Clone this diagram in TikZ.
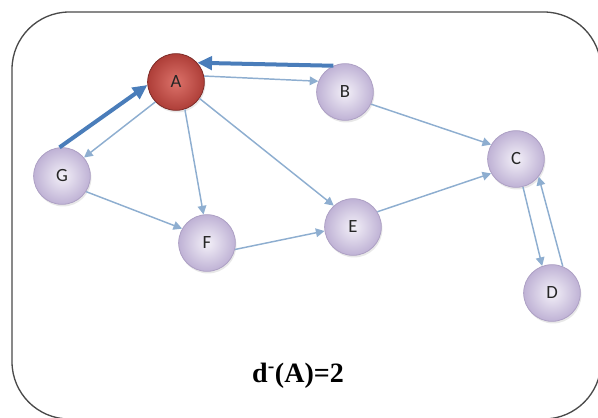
\documentclass[tikz,border=0pt]{standalone}
\usepackage{fontspec}
\setmainfont{Liberation Serif}
\newfontfamily\nodefont{Carlito}
\usetikzlibrary{arrows.meta,shadows}
\definecolor{ledgecol}{HTML}{8EAED0}
\definecolor{hedgecol}{HTML}{4A7DBA}
\definecolor{vin}{HTML}{F3F0F8}
\definecolor{vout}{HTML}{BFB2D5}
\definecolor{vborder}{HTML}{ADA0C4}
\definecolor{rin}{HTML}{DC726A}
\definecolor{rout}{HTML}{AE3E38}
\definecolor{rborder}{HTML}{7E2B27}
\definecolor{framecol}{HTML}{4A4A4A}
\begin{document}
\begin{tikzpicture}[x=0.75pt,y=-0.75pt,
  vtx/.style={circle, minimum size=42.5pt, inner sep=0pt, draw=vborder, line width=0.6pt,
    shading=radial, inner color=vin, outer color=vout,
    font=\nodefont\fontsize{14}{16}\selectfont, text=black!85,
    drop shadow={opacity=0.18, shadow xshift=0.8pt, shadow yshift=-1.6pt}},
  rootvtx/.style={vtx, draw=rborder, inner color=rin, outer color=rout},
  ledge/.style={draw=ledgecol, line width=1.1pt, -{Triangle[length=6.5pt,width=6.5pt]}},
  hedge/.style={draw=hedgecol, line width=3pt, -{Triangle[length=11pt,width=10pt]}},
  framebox/.style={draw=framecol, line width=1pt, rounded corners=43pt}]
\clip (0,0) rectangle (598,417);
\draw[framebox] (12,12) rectangle (601,419);

\node[rootvtx] (A) at (176,82) {A};
\node[vtx] (B) at (345,92) {B};
\node[vtx] (C) at (516,159) {C};
\node[vtx] (D) at (552,293) {D};
\node[vtx] (E) at (353,227) {E};
\node[vtx] (F) at (207,243) {F};
\node[vtx] (G) at (62,176) {G};

\draw[ledge] (A.12) -- (B.158);
\draw[ledge] (A.224) -- (G.40);
\draw[ledge] (A.288) -- (F.97);
\draw[ledge] (A.325) -- (E.132);
\draw[ledge] (B.335) -- (C.150);
\draw[ledge] (G.327) -- (F.150);
\draw[ledge] (F.347) -- (E.188);
\draw[ledge] (E.32) -- (C.210);
\draw[ledge] (C.284) -- (D.110);
\draw[ledge] (D.68) -- (C.322);

\draw[hedge] (B.114) -- (A.42);
\draw[hedge] (G.95) -- (A.186);

\node[font=\bfseries\fontsize{21}{24}\selectfont] (lbl) at (298,376) {d\textsuperscript{-}(A)=2};
\end{tikzpicture}
\end{document}
